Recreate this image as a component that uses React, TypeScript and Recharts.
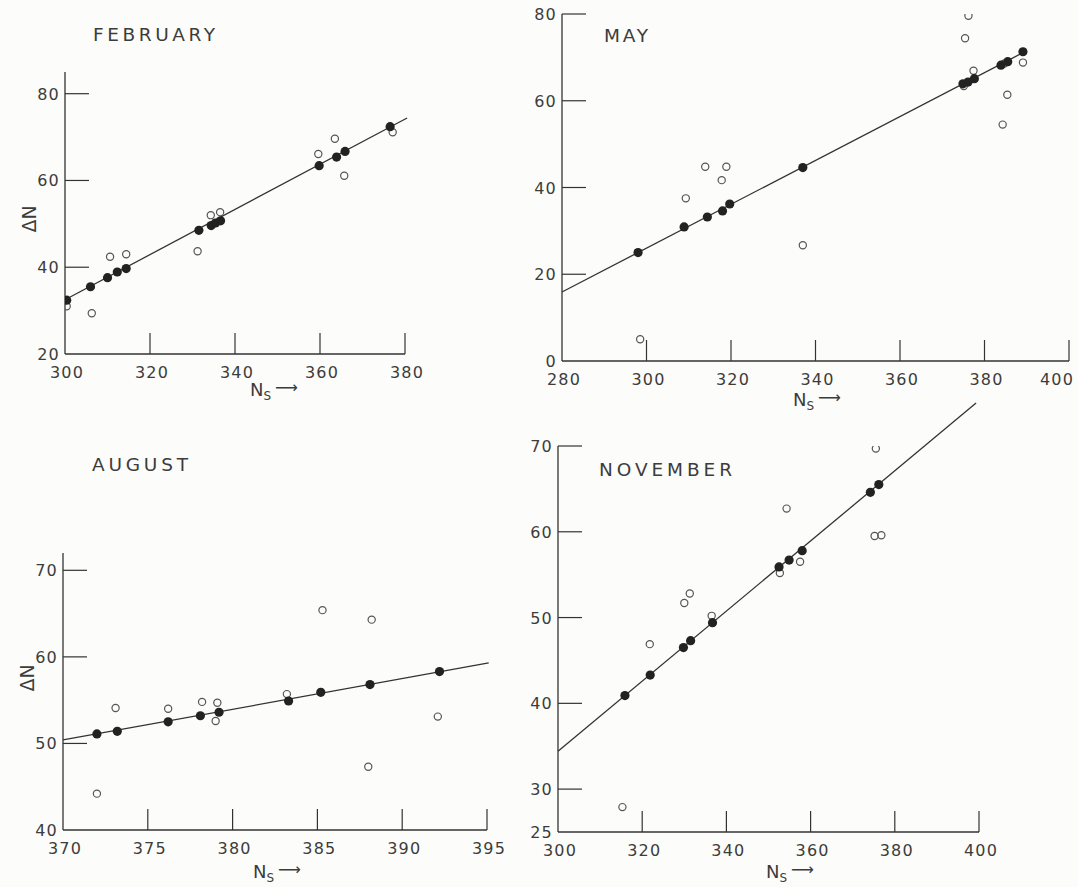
import React from "react";
import { ComposedChart, Scatter, XAxis, YAxis, ReferenceLine } from "recharts";

// February
const febFilledX = [300.4, 306.0, 310.0, 312.3, 314.4, 331.5, 334.4, 335.4, 336.6, 359.8, 363.9, 365.9, 376.5];
const febFilledY = [32.4, 35.5, 37.6, 38.9, 39.7, 48.5, 49.6, 50.2, 50.7, 63.4, 65.4, 66.7, 72.4];
const febOpenX = [300.4, 306.3, 310.6, 314.4, 331.2, 334.3, 336.5, 359.6, 363.5, 365.7, 377.1];
const febOpenY = [31.0, 29.4, 42.4, 43.0, 43.7, 52.0, 52.7, 66.1, 69.6, 61.1, 71.1];
const febFitX = [300, 380.5];
const febFitY = [32.5, 74.4];
const febXTicks = [300, 320, 340, 360, 380];
const febYTicks = [20, 40, 60, 80];

// May
const mayFilledX = [298.0, 308.9, 314.4, 318.0, 319.7, 337.0, 374.9, 376.1, 377.6, 383.9, 385.5, 389.1];
const mayFilledY = [25.0, 30.9, 33.2, 34.6, 36.2, 44.6, 63.9, 64.3, 65.1, 68.2, 69.0, 71.3];
const mayOpenX = [298.5, 309.3, 313.9, 318.9, 317.8, 337.0, 375.4, 376.2, 377.4, 375.1, 384.7, 385.4, 384.3, 389.1];
const mayOpenY = [5.0, 37.5, 44.8, 44.8, 41.7, 26.7, 74.4, 79.6, 66.9, 63.4, 68.6, 61.4, 54.5, 68.8];
const mayFitX = [280, 389.5];
const mayFitY = [15.9, 71.3];
const mayXTicks = [280, 300, 320, 340, 360, 380, 400];
const mayYTicks = [0, 20, 40, 60, 80];

// August
const augFilledX = [372.0, 373.2, 376.2, 378.1, 379.2, 383.3, 385.2, 388.1, 392.2];
const augFilledY = [51.1, 51.4, 52.5, 53.2, 53.6, 54.9, 55.9, 56.8, 58.3];
const augOpenX = [372.0, 373.1, 376.2, 378.2, 379.1, 379.0, 383.2, 385.3, 388.2, 388.0, 392.1];
const augOpenY = [44.2, 54.1, 54.0, 54.8, 54.7, 52.6, 55.7, 65.4, 64.3, 47.3, 53.1];
const augFitX = [370, 395.1];
const augFitY = [50.4, 59.3];
const augXTicks = [370, 375, 380, 385, 390, 395];
const augYTicks = [40, 50, 60, 70];

// November
const novFilledX = [315.9, 321.9, 329.8, 331.5, 336.7, 352.5, 354.9, 358.0, 374.2, 376.2];
const novFilledY = [40.9, 43.3, 46.5, 47.3, 49.4, 55.9, 56.7, 57.8, 64.6, 65.5];
const novOpenX = [315.3, 321.8, 330.0, 331.3, 336.5, 352.7, 354.3, 357.5, 375.5, 375.2, 376.8];
const novOpenY = [27.9, 46.9, 51.7, 52.8, 50.2, 55.2, 62.7, 56.5, 69.7, 59.5, 59.6];
const novFitX = [300, 399.3];
const novFitY = [34.4, 75.0];
const novXTicks = [300, 320, 340, 360, 380, 400];
const novYTicks = [25, 30, 40, 50, 60, 70];

const INK = "#333";
const TEXT = "#3c3c3c";
const FONT = "'DejaVu Sans', sans-serif";

const pts = (xs: number[], ys: number[]) => xs.map((x, i) => ({ x, y: ys[i] }));

// the x axis keeps its own 30px band under the plot
const M = { top: 60, right: 30, bottom: 10, left: 0 };
const XH = 30;
const YW = 70;

const FilledDot = (p: any) => <circle cx={p.cx} cy={p.cy} r={4.6} fill="#222" />;
const OpenDot = (p: any) => (
  <circle cx={p.cx} cy={p.cy} r={3.6} fill="none" stroke="#555" strokeWidth={1.2} />
);

function makeXTick(min: number, max: number, lastShift: number) {
  return (p: any) => {
    const v = p.payload.value;
    const dx = v === max ? lastShift : 2;
    return (
      <g>
        {v !== min && <line x1={p.x} y1={p.y} x2={p.x} y2={p.y - 21} stroke={INK} strokeWidth={1.2} />}
        <text x={p.x + dx} y={p.y + 24} textAnchor="middle" fontSize={16} fontFamily={FONT} fill={TEXT} letterSpacing={1.2}>
          {v}
        </text>
      </g>
    );
  };
}

function makeYTick(min: number) {
  return (p: any) => (
    <g>
      {p.payload.value !== min && (
        <line x1={p.x} y1={p.y} x2={p.x + 24} y2={p.y} stroke={INK} strokeWidth={1.2} />
      )}
      <text x={p.x - 5} y={p.y + 6} textAnchor="end" fontSize={16} fontFamily={FONT} fill={TEXT} letterSpacing={1.2}>
        {p.payload.value}
      </text>
    </g>
  );
}

interface PanelProps {
  plot: [number, number, number, number];
  xDomain: [number, number];
  yDomain: [number, number];
  xTicks: number[];
  yTicks: number[];
  filled: { x: number; y: number }[];
  open: { x: number; y: number }[];
  fitX: number[];
  fitY: number[];
  lastShift?: number;
}

function Panel({ plot, xDomain, yDomain, xTicks, yTicks, filled, open, fitX, fitY, lastShift = 2 }: PanelProps) {
  const [x0, y0, x1, y1] = plot;
  const width = x1 - x0 + YW + M.right;
  const height = y1 - y0 + M.top + M.bottom + XH;
  return (
    <div style={{ position: "absolute", left: x0 - YW, top: y0 - M.top }}>
      <ComposedChart width={width} height={height} margin={M} style={{ overflow: "visible" }}>
        <XAxis
          type="number"
          dataKey="x"
          height={XH}
          domain={xDomain}
          ticks={xTicks}
          interval={0}
          allowDataOverflow
          tickSize={0}
          tickMargin={0}
          tickLine={false}
          axisLine={{ stroke: INK, strokeWidth: 1.3 }}
          tick={makeXTick(xDomain[0], xDomain[1], lastShift)}
        />
        <YAxis
          type="number"
          dataKey="y"
          width={YW}
          domain={yDomain}
          ticks={yTicks}
          interval={0}
          allowDataOverflow
          tickSize={0}
          tickMargin={0}
          tickLine={false}
          axisLine={{ stroke: INK, strokeWidth: 1.3 }}
          tick={makeYTick(yDomain[0])}
        />
        <ReferenceLine
          segment={[
            { x: fitX[0], y: fitY[0] },
            { x: fitX[1], y: fitY[1] },
          ]}
          ifOverflow="visible"
          stroke={INK}
          strokeWidth={1.3}
        />
        <Scatter data={open} shape={OpenDot} isAnimationActive={false} />
        <Scatter data={filled} shape={FilledDot} isAnimationActive={false} />
      </ComposedChart>
    </div>
  );
}

function NsLabel({ x, y }: { x: number; y: number }) {
  return (
    <text x={x} y={y} fontSize={18} fontFamily={FONT} fill={TEXT}>
      N
      <tspan fontSize={12} dy={4}>S</tspan>
      <tspan dy={-7} dx={4} fontSize={16}>⟶</tspan>
    </text>
  );
}

function DeltaN({ x, y }: { x: number; y: number }) {
  return (
    <text
      x={x}
      y={y}
      fontSize={19}
      fontFamily={FONT}
      fill={TEXT}
      textAnchor="middle"
      transform={`rotate(-90 ${x} ${y})`}
    >
      ΔN
    </text>
  );
}

const titleStyle = { fontSize: 18.5, fontFamily: FONT, fill: TEXT };

export default function App() {
  return (
    <div style={{ position: "absolute", left: 0, top: 0, width: 1078, height: 887, background: "#fcfcfa", overflow: "hidden" }}>
      <Panel
        plot={[65, 72, 405, 354]}
        xDomain={[300, 380]}
        yDomain={[20, 85]}
        xTicks={febXTicks}
        yTicks={febYTicks}
        filled={pts(febFilledX, febFilledY)}
        open={pts(febOpenX, febOpenY)}
        fitX={febFitX}
        fitY={febFitY}
      />
      <Panel
        plot={[562, 14, 1069, 361]}
        xDomain={[280, 400]}
        yDomain={[0, 80]}
        xTicks={mayXTicks}
        yTicks={mayYTicks}
        filled={pts(mayFilledX, mayFilledY)}
        open={pts(mayOpenX, mayOpenY)}
        fitX={mayFitX}
        fitY={mayFitY}
        lastShift={-12}
      />
      <Panel
        plot={[63, 553, 487, 830]}
        xDomain={[370, 395]}
        yDomain={[40, 72]}
        xTicks={augXTicks}
        yTicks={augYTicks}
        filled={pts(augFilledX, augFilledY)}
        open={pts(augOpenX, augOpenY)}
        fitX={augFitX}
        fitY={augFitY}
      />
      <Panel
        plot={[558, 446, 979, 832]}
        xDomain={[300, 400]}
        yDomain={[25, 70]}
        xTicks={novXTicks}
        yTicks={novYTicks}
        filled={pts(novFilledX, novFilledY)}
        open={pts(novOpenX, novOpenY)}
        fitX={novFitX}
        fitY={novFitY}
      />
      <svg width={1078} height={887} style={{ position: "absolute", left: 0, top: 0, pointerEvents: "none" }}>
        <text x={93} y={41} textLength={122} lengthAdjust="spacing" {...titleStyle}>FEBRUARY</text>
        <text x={604} y={42} textLength={44} lengthAdjust="spacing" {...titleStyle}>MAY</text>
        <text x={92} y={471} textLength={96} lengthAdjust="spacing" {...titleStyle}>AUGUST</text>
        <text x={599} y={476} textLength={133} lengthAdjust="spacing" {...titleStyle}>NOVEMBER</text>
        <DeltaN x={36} y={219} />
        <DeltaN x={34} y={678} />
        <NsLabel x={250} y={396} />
        <NsLabel x={793} y={406} />
        <NsLabel x={253} y={878} />
        <NsLabel x={766} y={878} />
      </svg>
    </div>
  );
}
